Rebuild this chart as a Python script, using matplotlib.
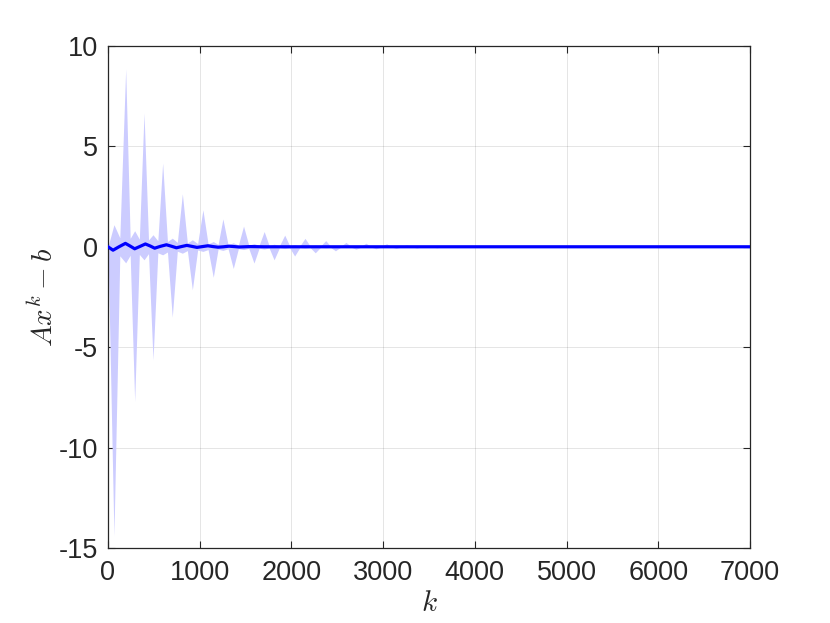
import numpy as np
import matplotlib
matplotlib.use("Agg")
import matplotlib.pyplot as plt
from matplotlib.ticker import FuncFormatter

# ---- data ----
# alternating spikes of the shaded band (iteration k, upper envelope, lower envelope)
spike_k = [65, 193, 291, 393, 491, 596, 701, 811, 920, 1035, 1148, 1253, 1366, 1478,
           1592, 1703, 1811, 1927, 2035, 2148, 2260, 2374, 2480, 2595, 2704, 2813,
           2922, 3038, 3141, 3256, 3366, 3474, 3585, 3695, 3804]
spike_upper = [1.1, 8.86, 0.8, 6.66, 0.6, 4.17, 0.43, 2.64, 0.35, 1.84, 0.26, 1.39,
               0.2, 1.03, 0.16, 0.76, 0.13, 0.58, 0.1, 0.42, 0.08, 0.31, 0.06, 0.22,
               0.04, 0.18, 0.03, 0.15, 0.02, 0.10, 0.02, 0.07, 0.01, 0.05, 0.01]
spike_lower = [-14.4, -0.8, -7.7, -0.65, -5.63, -0.4, -3.5, -0.32, -2.14, -0.23, -1.52,
               -0.18, -1.08, -0.14, -0.81, -0.11, -0.65, -0.09, -0.46, -0.07, -0.3,
               -0.05, -0.2, -0.04, -0.12, -0.03, -0.1, -0.02, -0.08, -0.02, -0.06,
               -0.01, -0.05, -0.01, -0.04]
# band half-width in the gaps between consecutive spikes
gap_halfwidth = [0.45, 0.42, 0.38, 0.34, 0.3, 0.26, 0.22, 0.19, 0.16, 0.14, 0.12, 0.1,
                 0.09, 0.08, 0.07, 0.06, 0.05, 0.05, 0.04, 0.04, 0.03, 0.03, 0.02,
                 0.02, 0.02, 0.015, 0.015, 0.01, 0.01, 0.01, 0.01, 0.005, 0.005, 0.005]

# mean residual curve
line_k = [0, 55, 120, 190, 240, 291, 350, 408, 460, 509, 570, 637, 690, 746, 800, 860,
          915, 970, 1030, 1090, 1145, 1200, 1260, 1320, 1375, 1430, 1490, 1550, 1700, 7000]
line_v = [0, -0.17, 0.0, 0.17, 0.04, -0.1, 0.02, 0.14, 0.04, -0.07, 0.02, 0.1, 0.03,
          -0.05, 0.01, 0.07, 0.02, -0.03, 0.01, 0.05, 0.01, -0.02, 0.0, 0.03, 0.01,
          -0.01, 0.0, 0.01, 0, 0]

k_max = 7000
x_ticks = [0, 1000, 2000, 3000, 4000, 5000, 6000, 7000]
y_ticks = [-15, -10, -5, 0, 5, 10]

# ---- build band outline from the read values ----
bk = [0.0]
bu = [0.0]
bl = [0.0]
for i, k in enumerate(spike_k):
    bk.append(k); bu.append(spike_upper[i]); bl.append(spike_lower[i])
    if i < len(gap_halfwidth):
        km = 0.5 * (k + spike_k[i + 1])
        bk.append(km); bu.append(gap_halfwidth[i]); bl.append(-gap_halfwidth[i])
bk += [3900, k_max]
bu += [0.0, 0.0]
bl += [0.0, 0.0]

plt.rcParams['axes.unicode_minus'] = False
plt.rcParams['mathtext.fontset'] = 'cm'
plt.rcParams['font.family'] = ['Liberation Sans', 'DejaVu Sans']

fig = plt.figure(figsize=(8.3, 6.23), dpi=100)
ax = fig.add_axes([0.1301, 0.1204, 0.7735, 0.8058])

ax.fill_between(bk, bl, bu, color=(0.8, 0.8, 1.0), linewidth=0, zorder=2)
ax.plot(line_k, line_v, color=(0, 0, 1), lw=2.3, zorder=3, solid_joinstyle='round')

ax.set_xlim(0, k_max)
ax.set_ylim(-15, 10)
ax.set_xticks(x_ticks)
ax.set_yticks(y_ticks)
ax.xaxis.set_major_formatter(FuncFormatter(lambda v, p: f"{int(v)}"))
ax.yaxis.set_major_formatter(FuncFormatter(lambda v, p: f"{int(v)}".replace('\u2212', '-')))

ax.grid(True, color=(0.15, 0.15, 0.15), alpha=0.12, lw=0.7, zorder=0)
ax.set_axisbelow(True)
for s in ax.spines.values():
    s.set_color('#262626')
    s.set_linewidth(0.9)
ax.tick_params(direction='in', length=5, width=0.8, colors='#262626',
               top=True, right=True, labelsize=19.5)
ax.tick_params(axis='x', pad=9)
ax.tick_params(axis='y', pad=7)

ax.set_xlabel(r'$k$', fontsize=21, color='#262626', labelpad=2)
ax.set_ylabel(r'$Ax^k - b$', fontsize=21, color='#262626', labelpad=0)

fig.savefig('out.png', dpi=100, facecolor='white')
